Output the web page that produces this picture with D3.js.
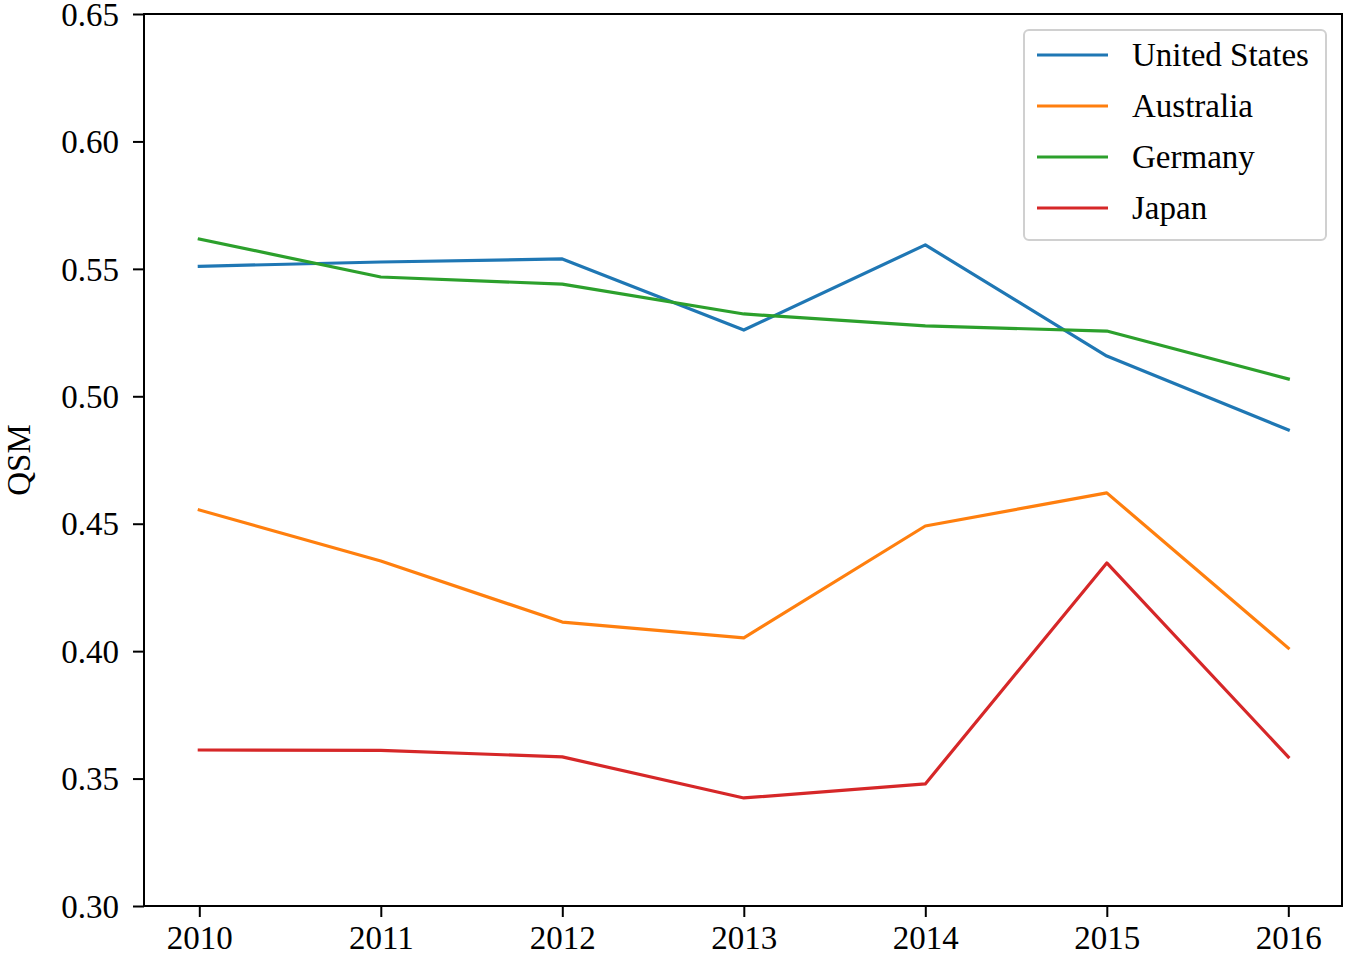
<!DOCTYPE html>
<html><head><meta charset="utf-8">
<script src="https://cdn.jsdelivr.net/npm/d3@7"></script>
<style>body{margin:0;background:#fff}svg{display:block}</style>
</head><body>
<svg id="c" width="1350" height="958"></svg>
<script>
const years = [2010, 2011, 2012, 2013, 2014, 2015, 2016];
const seriesNames = ["United States", "Australia", "Germany", "Japan"];
const unitedStates = [0.551, 0.5527, 0.5539, 0.526, 0.5594, 0.5158, 0.4868];
const australia = [0.4554, 0.4354, 0.4114, 0.4052, 0.4491, 0.4621, 0.4012];
const germany = [0.5617, 0.5468, 0.544, 0.5323, 0.5276, 0.5256, 0.5068];
const japan = [0.3612, 0.3611, 0.3585, 0.3424, 0.3479, 0.4346, 0.3585];
const yTicks = [0.30, 0.35, 0.40, 0.45, 0.50, 0.55, 0.60, 0.65];
const colors = ["#1f77b4", "#ff7f0e", "#2ca02c", "#d62728"];
const seriesValues = [unitedStates, australia, germany, japan];

const svg = d3.select("#c");
const L = 144, R = 1342, T = 14, B = 906;
const font = "'Liberation Serif', 'Times New Roman', serif";
const x = d3.scaleLinear().range([L, R])
  .domain([2010 - (199.3 - L) / 181.5, 2016 + (R - 1288.3) / 181.5]);
const y = d3.scaleLinear().domain([0.30, 0.65]).range([B, T]);

const line = d3.line().x((d, i) => x(years[i])).y(d => y(d));
seriesValues.forEach((vals, k) => {
  svg.append("path").datum(vals).attr("d", line)
    .attr("fill", "none").attr("stroke", colors[k]).attr("stroke-width", 3.2)
    .attr("stroke-linejoin", "round").attr("stroke-linecap", "square");
});

const xAxis = svg.append("g").attr("transform", `translate(0,${B})`)
  .call(d3.axisBottom(x).tickValues(years).tickFormat(d3.format("d")).tickSize(11).tickPadding(8));
const yAxis = svg.append("g").attr("transform", `translate(${L},0)`)
  .call(d3.axisLeft(y).tickValues(yTicks).tickFormat(d3.format(".2f")).tickSize(11).tickPadding(14));
[xAxis, yAxis].forEach(a => {
  a.select(".domain").remove();
  a.selectAll("line").attr("stroke", "#000").attr("stroke-width", 2);
  a.selectAll("text").attr("font-family", font).attr("font-size", 33).attr("fill", "#000");
});
yAxis.selectAll("text").attr("dy", "0.34em");
xAxis.selectAll("text").attr("dy", "0.74em");

svg.append("rect").attr("x", L).attr("y", T).attr("width", R - L).attr("height", B - T)
  .attr("fill", "none").attr("stroke", "#000").attr("stroke-width", 2);

svg.append("text").attr("transform", `translate(30,${(T + B) / 2}) rotate(-90)`)
  .attr("text-anchor", "middle").attr("font-family", font).attr("font-size", 33).text("QSM");

const lg = svg.append("g");
lg.append("rect").attr("x", 1024).attr("y", 30).attr("width", 302).attr("height", 210)
  .attr("rx", 5).attr("fill", "#fff").attr("fill-opacity", 0.8).attr("stroke", "#d0d0d0").attr("stroke-width", 2);
seriesNames.forEach((n, k) => {
  const yy = 55 + k * 51;
  lg.append("line").attr("x1", 1037).attr("x2", 1108).attr("y1", yy).attr("y2", yy)
    .attr("stroke", colors[k]).attr("stroke-width", 3.2);
  lg.append("text").attr("x", 1132).attr("y", yy).attr("dy", "0.34em")
    .attr("font-family", font).attr("font-size", 33).text(n);
});
</script>
</body></html>
